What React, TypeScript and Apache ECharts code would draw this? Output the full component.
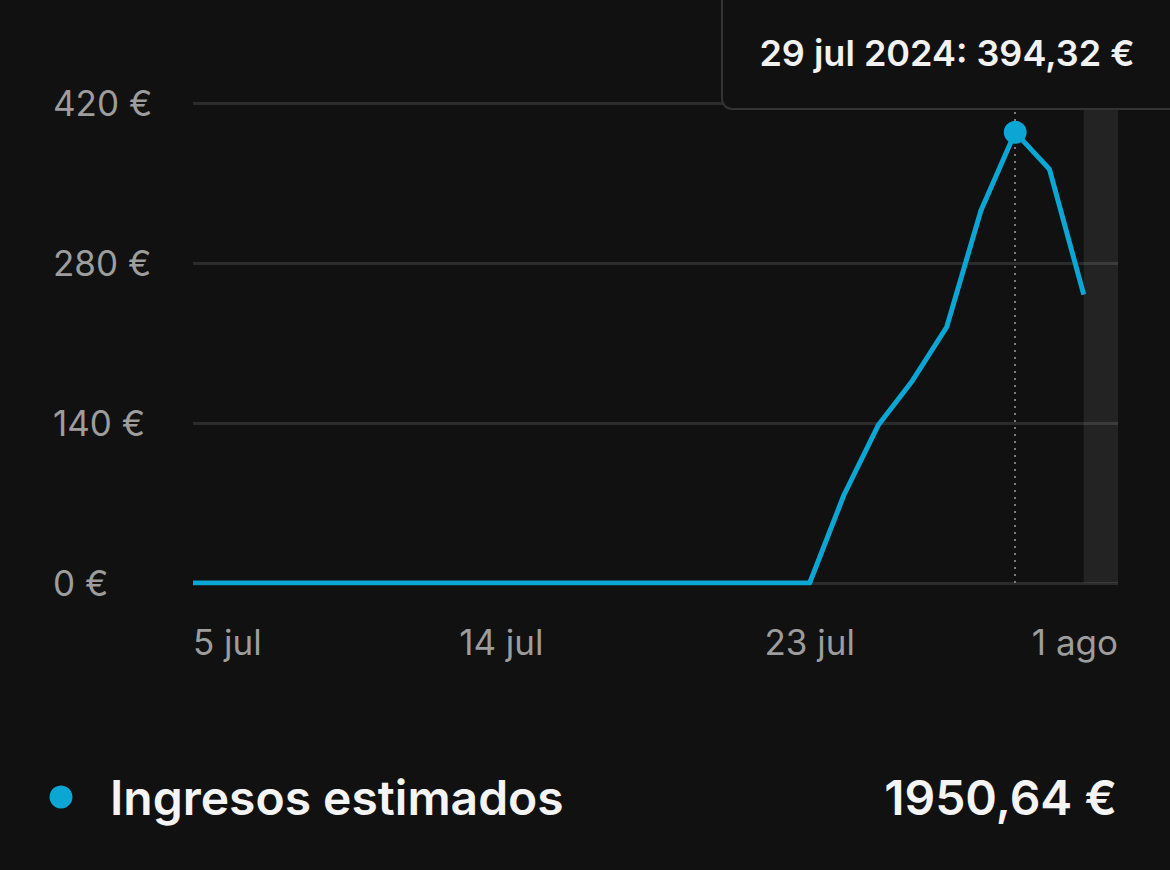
import React, { useEffect, useRef } from "react";
import * as echarts from "echarts";

const days: string[] = [
  "5 jul", "6 jul", "7 jul", "8 jul", "9 jul", "10 jul", "11 jul", "12 jul", "13 jul",
  "14 jul", "15 jul", "16 jul", "17 jul", "18 jul", "19 jul", "20 jul", "21 jul", "22 jul",
  "23 jul", "24 jul", "25 jul", "26 jul", "27 jul", "28 jul", "29 jul", "30 jul", "31 jul",
  "1 ago",
];
const revenue: (number | null)[] = [
  0, 0, 0, 0, 0, 0, 0, 0, 0,
  0, 0, 0, 0, 0, 0, 0, 0, 0,
  0, 77, 138, 177, 224, 326, 394.32, 362, 252.32,
  null,
];
const yTicks: number[] = [0, 140, 280, 420];
const seriesName = "Ingresos estimados";
const highlightDay = "29 jul";
const highlightYear = "2024";
const partialStart = "31 jul";
const partialEnd = "1 ago";

const BLUE = "#0ba6d3";
const FONT = "Inter, 'Noto Sans', sans-serif";

const fmt = (v: number) => v.toFixed(2).replace(".", ",");

export default function App() {
  const ref = useRef<HTMLDivElement>(null);
  useEffect(() => {
    if (!ref.current) return;
    const chart = echarts.init(ref.current, undefined, { renderer: "svg" });
    const hiIdx = days.indexOf(highlightDay);
    const hiVal = revenue[hiIdx] as number;
    const total = revenue.reduce((a: number, b) => a + (b ?? 0), 0);
    chart.setOption({
      animation: false,
      backgroundColor: "#111111",
      grid: { left: 193, right: 52, top: 103, bottom: 287 },
      xAxis: {
        type: "category",
        data: days,
        boundaryGap: false,
        axisLine: { show: false },
        axisTick: { show: false },
        splitLine: { show: false },
        axisLabel: {
          interval: 8,
          color: "#9d9d9d",
          fontSize: 35,
          fontFamily: FONT,
          margin: 41,
          alignMinLabel: "left",
          alignMaxLabel: "right",
        },
      },
      yAxis: {
        type: "value",
        min: yTicks[0],
        max: yTicks[yTicks.length - 1],
        interval: yTicks[1] - yTicks[0],
        axisLine: { show: false },
        axisTick: { show: false },
        splitLine: { lineStyle: { color: "#2b2b2b", width: 3 } },
        axisLabel: {
          align: "left",
          margin: 140,
          color: "#9d9d9d",
          fontSize: 35,
          fontFamily: FONT,
          formatter: (v: number) => `${v} €`,
        },
      },
      series: [
        {
          name: seriesName,
          type: "line",
          data: revenue,
          symbol: "none",
          lineStyle: { color: BLUE, width: 5, join: "round" },
          itemStyle: { color: BLUE },
          markArea: {
            silent: true,
            itemStyle: { color: "rgba(255,255,255,0.08)" },
            data: [[{ xAxis: partialStart }, { xAxis: partialEnd }]],
          },
          markLine: {
            silent: true,
            symbol: "none",
            label: { show: false },
            lineStyle: { color: "#7a7a7a", type: [2, 5], width: 2 },
            data: [{ xAxis: highlightDay }],
          },
          markPoint: {
            silent: true,
            symbol: "circle",
            symbolSize: 23,
            itemStyle: { color: BLUE },
            label: { show: false },
            data: [{ coord: [highlightDay, hiVal] }],
          },
        },
      ],
      graphic: [
        {
          type: "rect",
          shape: { x: 722, y: -20, width: 480, height: 129, r: 10 },
          style: { fill: "#111111", stroke: "#333333", lineWidth: 2 },
          z: 100,
        },
        {
          type: "text",
          x: 947,
          y: 53,
          z: 101,
          style: {
            text: `${highlightDay} ${highlightYear}: ${fmt(hiVal)} €`,
            fill: "#f2f2f2",
            font: `600 36px ${FONT}`,
            align: "center",
            verticalAlign: "middle",
          },
        },
        {
          type: "circle",
          shape: { cx: 61, cy: 797, r: 11.5 },
          style: { fill: BLUE },
        },
        {
          type: "text",
          x: 110,
          y: 797,
          style: {
            text: seriesName,
            fill: "#f4f4f4",
            font: `600 48px ${FONT}`,
            align: "left",
            verticalAlign: "middle",
          },
        },
        {
          type: "text",
          x: 1117,
          y: 797,
          style: {
            text: `${fmt(total)} €`,
            fill: "#f4f4f4",
            font: `600 48px ${FONT}`,
            align: "right",
            verticalAlign: "middle",
          },
        },
      ],
    });
    return () => chart.dispose();
  }, []);
  return (
    <div
      ref={ref}
      style={{ position: "fixed", left: 0, top: 0, width: 1170, height: 870, background: "#111111" }}
    />
  );
}
